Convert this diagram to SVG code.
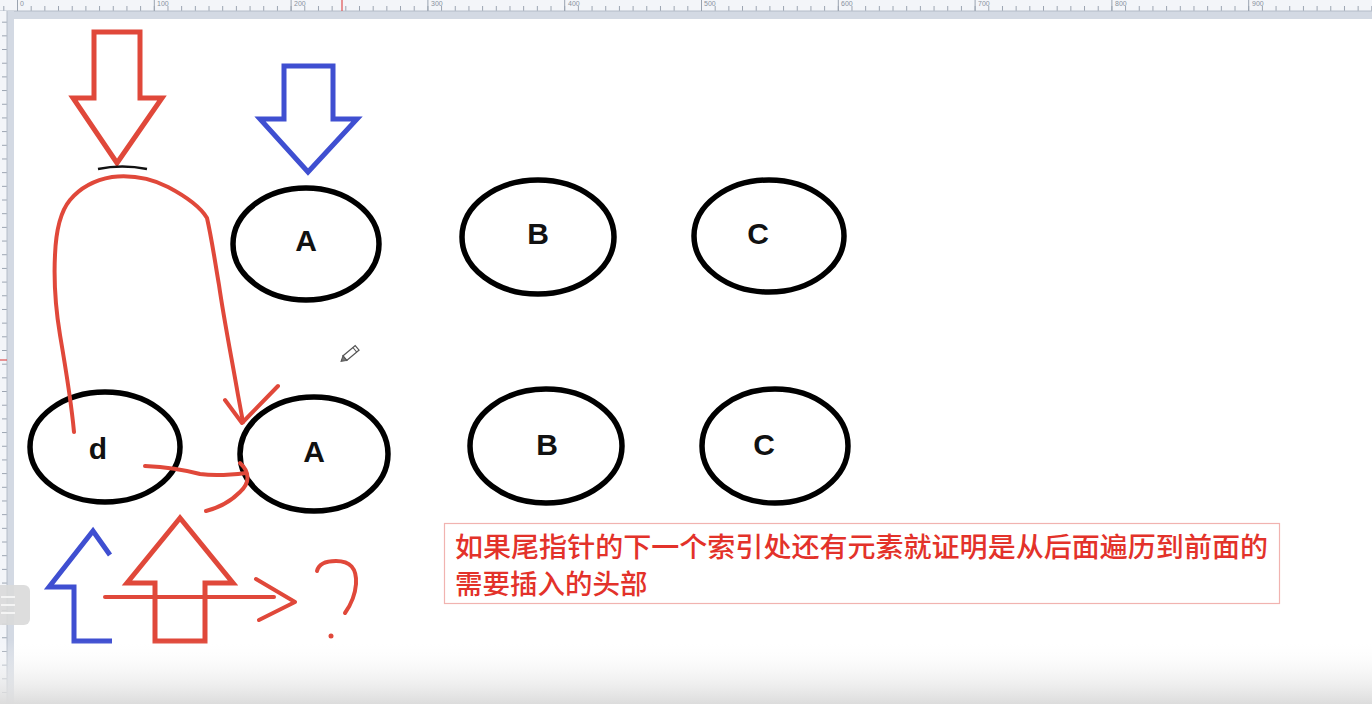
<svg xmlns="http://www.w3.org/2000/svg" width="1372" height="704" viewBox="0 0 1372 704">
  <defs>
    <linearGradient id="bottomFade" x1="0" y1="0" x2="0" y2="1">
      <stop offset="0" stop-color="#ffffff" stop-opacity="0"/>
      <stop offset="1" stop-color="#dcdcdc" stop-opacity="1"/>
    </linearGradient>
    <pattern id="hTicks" x="17" y="0" width="13.68" height="11" patternUnits="userSpaceOnUse">
      <line x1="0.5" y1="6" x2="0.5" y2="11" stroke="#9aa3b0" stroke-width="1"/>
    </pattern>
    <pattern id="vTicks" x="0" y="8" width="7" height="13.68" patternUnits="userSpaceOnUse">
      <line x1="2" y1="0.5" x2="7" y2="0.5" stroke="#9aa3b0" stroke-width="1"/>
    </pattern>
    <style>
      .ell { fill: none; stroke: #000; stroke-width: 5.5; }
      .lbl { font-family: "Liberation Sans", Arial, sans-serif; font-weight: bold; font-size: 30px; fill: #111; text-anchor: middle; }
      .red { fill: none; stroke: #e0483a; stroke-width: 4; stroke-linecap: round; stroke-linejoin: round; }
      .redArrow { fill: none; stroke: #e0483a; stroke-width: 5; stroke-linejoin: miter; }
      .blueArrow { fill: none; stroke: #3f4fd1; stroke-width: 5; stroke-linejoin: miter; }
      .note { font-family: "Noto Sans CJK SC", "Liberation Sans", sans-serif; font-size: 27.5px; font-weight: 500; fill: #e3322a; }
      .rulerTxt { font-family: "Liberation Sans", Arial, sans-serif; font-size: 7px; fill: #8a929e; }
    </style>
  </defs>

  <!-- background / canvas -->
  <rect x="0" y="0" width="1372" height="704" fill="#ffffff"/>

  <!-- rulers -->
  <g id="rulers">
    <rect x="0" y="0" width="1372" height="11" fill="#f3f5f9"/>
    <rect x="0" y="0" width="1372" height="11" fill="url(#hTicks)"/>
    <rect x="0" y="11" width="1372" height="8" fill="#d3d9e3"/>
    <line x1="0" y1="11" x2="1372" y2="11" stroke="#b4bcc8" stroke-width="1"/>
    <rect x="0" y="11" width="7" height="693" fill="#f3f5f9"/>
    <rect x="0" y="11" width="7" height="693" fill="url(#vTicks)"/>
    <rect x="7" y="11" width="7" height="693" fill="#d3d9e3"/>
    <line x1="7" y1="11" x2="7" y2="704" stroke="#b4bcc8" stroke-width="1"/>
    <path d="M17.5 0V11M154.3 0V11M291.1 0V11M427.9 0V11M564.7 0V11M701.5 0V11M838.3 0V11M975.1 0V11M1111.9 0V11M1248.7 0V11" stroke="#9aa3b0" stroke-width="1"/>
    <text class="rulerTxt" x="20" y="6">0</text>
    <text class="rulerTxt" x="157" y="6">100</text>
    <text class="rulerTxt" x="294" y="6">200</text>
    <text class="rulerTxt" x="431" y="6">300</text>
    <text class="rulerTxt" x="568" y="6">400</text>
    <text class="rulerTxt" x="704" y="6">500</text>
    <text class="rulerTxt" x="841" y="6">600</text>
    <text class="rulerTxt" x="978" y="6">700</text>
    <text class="rulerTxt" x="1115" y="6">800</text>
    <text class="rulerTxt" x="1252" y="6">900</text>
    <line x1="342" y1="0" x2="342" y2="11" stroke="#e05050" stroke-width="1.2"/>
    <line x1="0" y1="360" x2="7" y2="360" stroke="#e05050" stroke-width="1.2"/>
    <rect x="14" y="19" width="1358" height="685" fill="#ffffff"/>
  </g>

  <!-- pointer arrows -->
  <g id="redDownArrow">
    <polygon class="redArrow" points="94,32 140,32 140,98 162,98 117,163 73,98 94,98"/>
    <path d="M98 169 Q122 164 147 169" fill="none" stroke="#111" stroke-width="2.5"/>
  </g>
  <g id="blueDownArrow">
    <polygon class="blueArrow" points="284,66 333,66 333,119 357,119 308,172 260,119 284,119"/>
  </g>
  <g id="blueUpArrow">
    <polyline class="blueArrow" points="110,555 93,531 49,587 74,587 74,641 112,641"/>
  </g>
  <g id="redUpArrow">
    <polygon class="redArrow" points="180,518 127,583 155,583 155,641 205,641 205,583 233,583"/>
  </g>

  <!-- top row nodes -->
  <g id="nodeTopA">
    <ellipse class="ell" cx="306" cy="244" rx="73" ry="56"/>
    <text class="lbl" x="306" y="251">A</text>
  </g>
  <g id="nodeTopB">
    <ellipse class="ell" cx="538" cy="237" rx="76" ry="57"/>
    <text class="lbl" x="538" y="244">B</text>
  </g>
  <g id="nodeTopC">
    <ellipse class="ell" cx="769" cy="236" rx="75" ry="56"/>
    <text class="lbl" x="758" y="244">C</text>
  </g>

  <!-- bottom row nodes -->
  <g id="nodeD">
    <ellipse class="ell" cx="105" cy="447" rx="75" ry="55"/>
    <text class="lbl" x="98" y="459">d</text>
  </g>
  <g id="nodeBottomA">
    <ellipse class="ell" cx="314" cy="454" rx="74" ry="57"/>
    <text class="lbl" x="314" y="462">A</text>
  </g>
  <g id="nodeBottomB">
    <ellipse class="ell" cx="546" cy="446" rx="76" ry="57"/>
    <text class="lbl" x="547" y="455">B</text>
  </g>
  <g id="nodeBottomC">
    <ellipse class="ell" cx="775" cy="446" rx="73" ry="57"/>
    <text class="lbl" x="764" y="455">C</text>
  </g>

  <!-- connectors (hand-drawn) -->
  <g id="connectors">
    <path class="red" d="M74 432 C72 410 66 370 60 335 C55 305 54 275 55 255 C56 230 60 212 70 200 C80 188 95 180 112 177 C130 175 150 178 168 187 C185 196 200 206 207 218 C212 240 215 262 219 285 C224 320 232 360 238 395 L243 422"/>
    <polyline class="red" points="225,400 242,423 278,386"/>
    <path class="red" d="M145 466 C165 467 185 470 200 474 C215 476 230 475 246 473"/>
    <path class="red" d="M240 463 C250 472 250 483 240 492 C230 502 218 508 206 511"/>
    <line class="red" x1="105" y1="597" x2="274" y2="597"/>
    <polyline class="red" points="256,579 295,602 259,620"/>
    <path class="red" d="M317 571 C319 563 326 561 336 561 C350 561 357 568 356 584 C355 597 350 606 345 613"/>
    <circle cx="331" cy="636" r="2.5" fill="#e0483a"/>
  </g>

  <!-- note box -->
  <g id="note">
    <rect x="444.5" y="523.5" width="835" height="80" fill="#ffffff" stroke="#f1b3b0" stroke-width="1.2"/>
    <text class="note" x="455" y="557" textLength="813" lengthAdjust="spacingAndGlyphs">如果尾指针的下一个索引处还有元素就证明是从后面遍历到前面的</text>
    <text class="note" x="455" y="594">需要插入的头部</text>
  </g>

  <!-- pencil cursor -->
  <g id="pencilCursor" transform="translate(351 353) rotate(-40)">
    <rect x="-8" y="-3" width="16" height="6" fill="#ffffff" stroke="#555" stroke-width="1.2"/>
    <polygon points="-8,-3 -13,0 -8,3" fill="#777" stroke="#555" stroke-width="1"/>
    <line x1="5" y1="-3" x2="5" y2="3" stroke="#555" stroke-width="1"/>
  </g>

  <!-- bottom fade of the screen -->
  <rect x="0" y="640" width="1372" height="64" fill="url(#bottomFade)"/>

  <!-- side UI button -->
  <g id="sideButton">
    <rect x="-6" y="585" width="36" height="40" rx="6" fill="#d9d9d9" opacity="0.9"/>
    <path d="M1 597H15M1 605H15M1 613H15" stroke="#f4f4f4" stroke-width="2"/>
  </g>
</svg>
